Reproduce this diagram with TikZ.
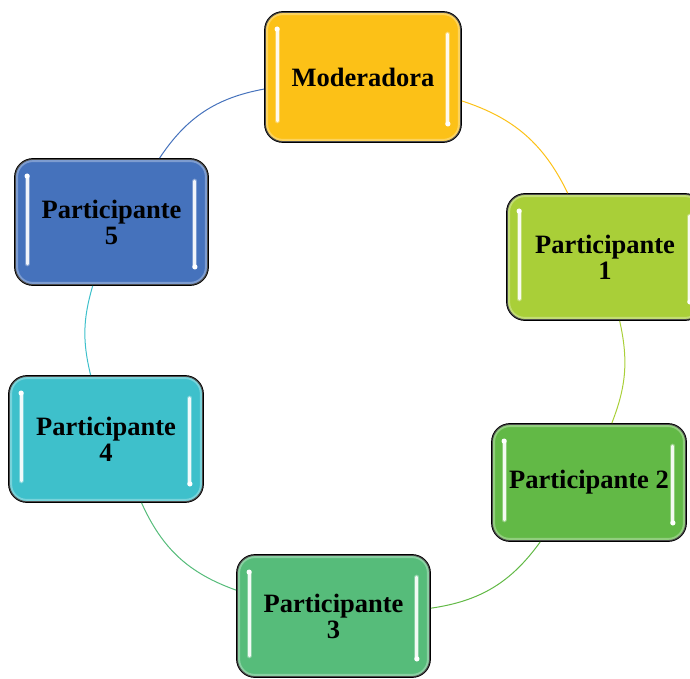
\documentclass[tikz,border=0pt]{standalone}
\usepackage{fontspec}
\setmainfont{Liberation Serif}
\usepackage{xcolor}
\usepackage{tikz}
\usetikzlibrary{positioning, calc}
\definecolor{modcolor}{RGB}{252, 193, 23}
\definecolor{ponecolor}{RGB}{169, 207, 56}
\definecolor{ptwocolor}{RGB}{98, 185, 70}
\definecolor{pthreecolor}{RGB}{86, 188, 122}
\definecolor{pfourcolor}{RGB}{62, 192, 203}
\definecolor{pfivecolor}{RGB}{69, 114, 188}

\begin{document}
\begin{tikzpicture}[
    x=1pt, y=1pt,
    member/.style={draw=black, line width=1.8pt, rounded corners=18pt, minimum width=195pt, minimum height=126pt, inner sep=0pt, align=center, font=\bfseries\fontsize{26.5}{26}\selectfont},
    glow/.style={white, opacity=0.3, line width=3pt, rounded corners=16pt},
    halo/.style={white, line width=5pt, line cap=round, opacity=0.3},
    shine/.style={white, line width=3pt, line cap=round, opacity=0.9},
    link/.style={line width=1pt}
]
    \clip (0,0) rectangle (690,678);

    % Moderator and participants
    \node[member, fill=modcolor, minimum width=196pt, minimum height=130pt] (mod) at (363, 601) {Moderadora};
    \node[member, fill=ponecolor, minimum width=196pt] (p1) at (605, 421) {Participante\\1};
    \node[member, fill=ptwocolor, minimum width=194pt, minimum height=117pt] (p2) at (589, 195.5) {Participante 2};
    \node[member, fill=pthreecolor, minimum width=193pt, minimum height=122pt] (p3) at (333.5, 62) {Participante\\3};
    \node[member, fill=pfourcolor, minimum width=194pt] (p4) at (106, 239) {Participante\\4};
    \node[member, fill=pfivecolor, minimum width=193pt] (p5) at (111.5, 456) {Participante\\5};

    % Highlights
    \foreach \n in {mod, p1, p2, p3, p4, p5} {
        \draw[glow] ([shift={(2.5pt,-2.5pt)}]\n.north west) rectangle ([shift={(-2.5pt,2.5pt)}]\n.south east);
        \draw[halo] ([shift={(13pt,-18pt)}]\n.north west) -- ([shift={(13pt,22pt)}]\n.south west);
        \draw[halo] ([shift={(-14pt,-23pt)}]\n.north east) -- ([shift={(-14pt,19pt)}]\n.south east);
        \draw[shine] ([shift={(13pt,-18pt)}]\n.north west) -- ([shift={(13pt,22pt)}]\n.south west);
        \draw[shine] ([shift={(-14pt,-23pt)}]\n.north east) -- ([shift={(-14pt,19pt)}]\n.south east);
        \fill[white] ([shift={(13pt,-18pt)}]\n.north west) circle (2.6pt);
        \fill[white] ([shift={(-14pt,19pt)}]\n.south east) circle (2.6pt);
    }

    % Connections
    \draw[link, modcolor] (mod) to[bend left=23] (p1);
    \draw[link, ponecolor] (p1) to[bend left=17] (p2);
    \draw[link, ptwocolor] (p2) to[bend left=23] (p3);
    \draw[link, pthreecolor] (p3) to[bend left=23] (p4);
    \draw[link, pfourcolor] (p4) to[bend left=15] (p5);
    \draw[link, pfivecolor] (p5) to[bend left=23] (mod);

\end{tikzpicture}
\end{document}
